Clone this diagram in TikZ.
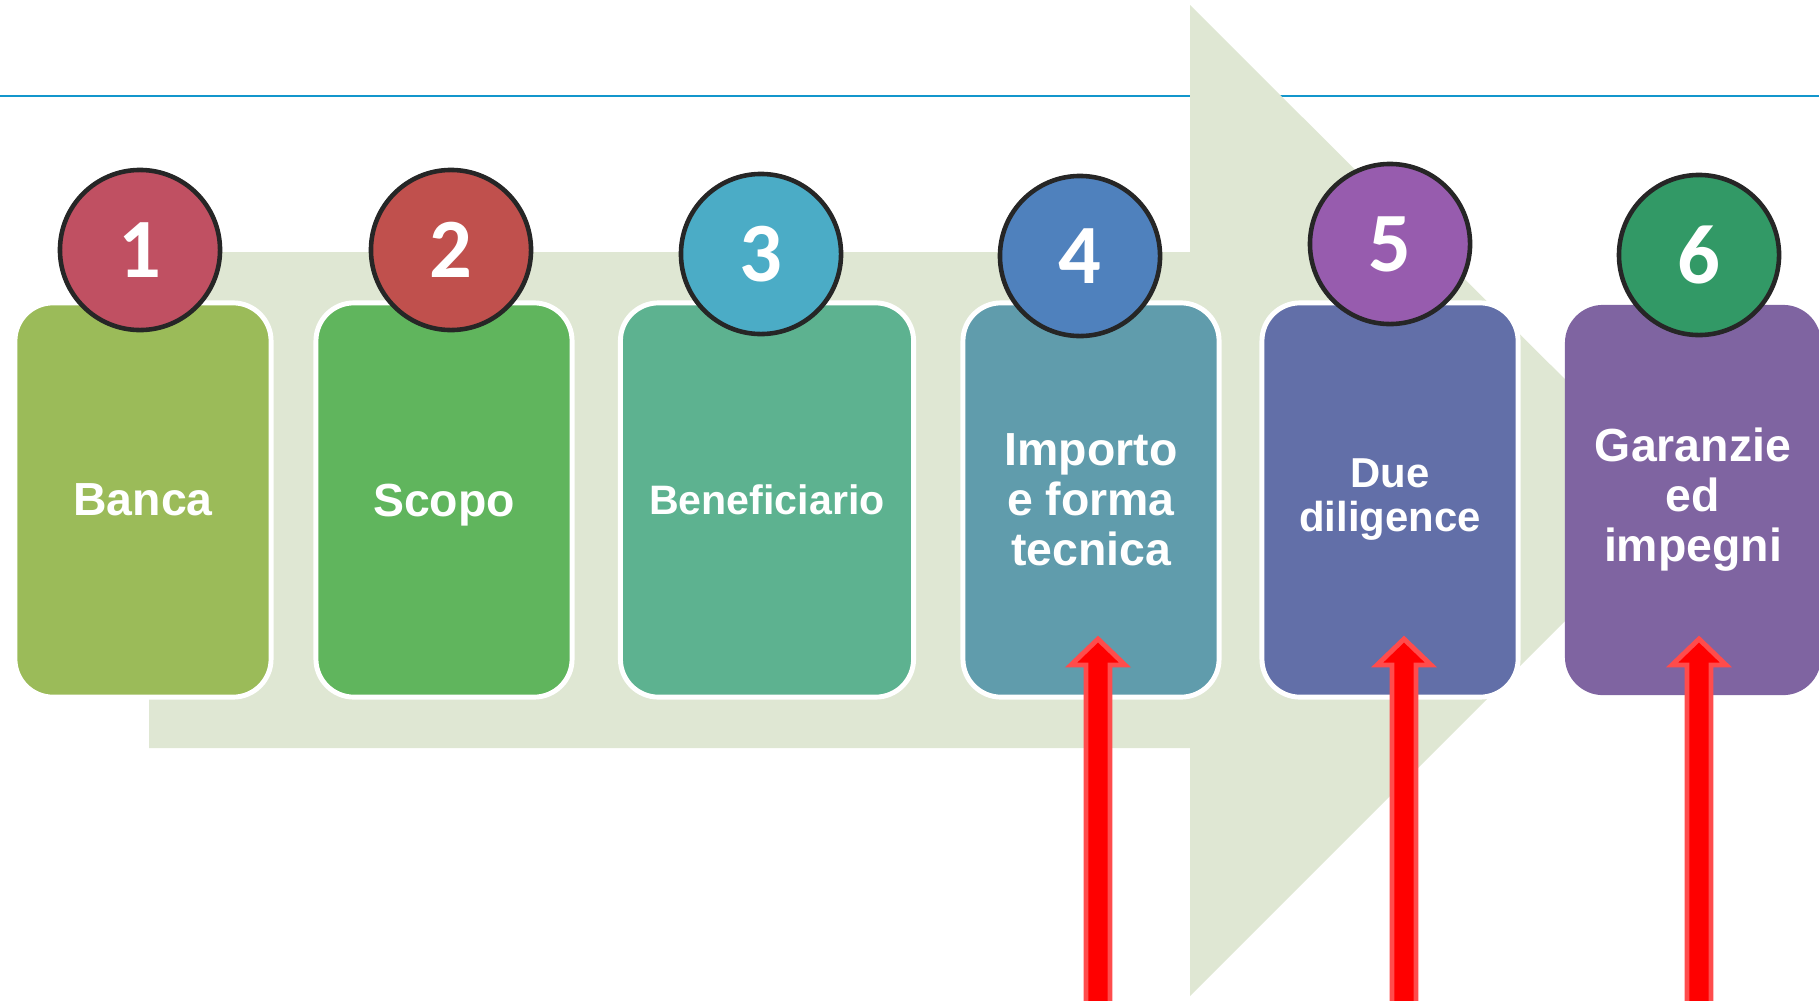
\documentclass[tikz,border=0pt]{standalone}
\usepackage{fontspec}
\setmainfont{Liberation Sans}
\newfontfamily\numfont{Carlito}
\definecolor{bgarrow}{HTML}{DFE7D3}
\definecolor{rulecol}{HTML}{1396CC}
\definecolor{boxA}{HTML}{9BBB59}
\definecolor{boxB}{HTML}{60B55D}
\definecolor{boxC}{HTML}{5DB290}
\definecolor{boxD}{HTML}{609CAC}
\definecolor{boxE}{HTML}{626FA8}
\definecolor{boxF}{HTML}{7F64A1}
\definecolor{numA}{HTML}{C05062}
\definecolor{numB}{HTML}{C0504D}
\definecolor{numC}{HTML}{4BACC6}
\definecolor{numD}{HTML}{4F81BD}
\definecolor{numE}{HTML}{975CAE}
\definecolor{numF}{HTML}{329966}
\begin{document}
\begin{tikzpicture}[x=0.01cm, y=-0.01cm,
    every node/.style={text=white},
    box/.style={rectangle, rounded corners=0.38cm, draw=white, line width=1.4pt, minimum width=2.56cm, minimum height=3.94cm, align=center, font=\fontsize{13.2}{14.2}\selectfont\bfseries},
    num/.style={circle, draw=black!85, line width=1.3pt, minimum size=1.6cm, inner sep=0pt, font=\numfont\fontsize{24}{24}\selectfont\bfseries},
    uparrow/.style={draw=red!70, fill=red, line width=1.4pt}]
    \useasboundingbox (0,0) rectangle (1819,1000);
    \draw[rulecol, line width=0.7pt] (0,96) -- (1819,96);
    \fill[bgarrow] (149,252) -- (1190,252) -- (1190,5) -- (1686,500) -- (1190,996) -- (1190,748) -- (149,748) -- cycle;
    \node[box, fill=boxA] (banca) at (143,500) {Banca};
    \node[box, fill=boxB, text depth=0pt] (scopo) at (444,500) {Scopo};
    \node[box, fill=boxC, minimum width=2.93cm, font=\fontsize{11.7}{13}\selectfont\bfseries] (benef) at (767,500) {Beneficiario};
    \node[box, fill=boxD] (importo) at (1091,500) {Importo\\e forma\\tecnica};
    \node[box, fill=boxE, font=\fontsize{11.9}{12.5}\selectfont\bfseries] (due) at (1390,500) {Due\\diligence};
    \node[box, fill=boxF, draw=none, minimum height=3.9cm] (garanzie) at (1693,500) {Garanzie\\ed\\impegni};
    \node[num, fill=numA] (n1) at (140,250) {1};
    \node[num, fill=numB] (n2) at (451,250) {2};
    \node[num, fill=numC] (n3) at (761,254) {3};
    \node[num, fill=numD] (n4) at (1080,256) {4};
    \node[num, fill=numE] (n5) at (1390,244) {5};
    \node[num, fill=numF] (n6) at (1699,255) {6};
    \foreach \x in {1098,1404,1699}
        \draw[uparrow] (\x-12,1010) -- (\x-12,665) -- (\x-27,665) -- (\x,639) -- (\x+27,665) -- (\x+12,665) -- (\x+12,1010) -- cycle;
\end{tikzpicture}
\end{document}
